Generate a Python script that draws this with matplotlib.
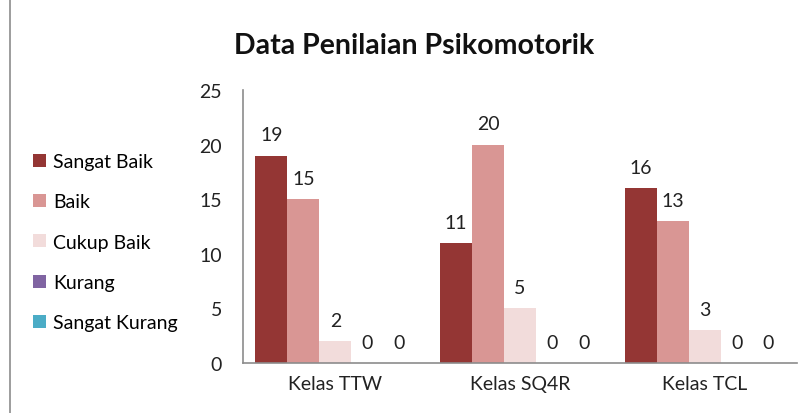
import numpy as np
import matplotlib.pyplot as plt
from matplotlib.lines import Line2D

# ── DATA ──────────────────────────────────────────────────────────────────────
categories = ["Kelas TTW", "Kelas SQ4R", "Kelas TCL"]
series_names = ["Sangat Baik", "Baik", "Cukup Baik", "Kurang", "Sangat Kurang"]
sangat_baik = [19, 11, 16]
baik = [15, 20, 13]
cukup_baik = [2, 5, 3]
kurang = [0, 0, 0]
sangat_kurang = [0, 0, 0]
series_values = [sangat_baik, baik, cukup_baik, kurang, sangat_kurang]
colors = ["#943634", "#D99694", "#F2DCDB", "#8064A2", "#4BACC6"]
# ─────────────────────────────────────────────────────────────────────────────

plt.rcParams["font.family"] = ["Lato", "DejaVu Sans"]
FS = 14

W, H = 807, 414
fig = plt.figure(figsize=(W / 100, H / 100), dpi=100)
ax = fig.add_axes([243 / W, 1 - 364 / H, (797 - 243) / W, (364 - 91) / H])

x = np.arange(len(categories))
bw = 0.173
for i, (name, vals, c) in enumerate(zip(series_names, series_values, colors)):
    offs = (i - 2) * bw
    bars = ax.bar(x + offs, vals, width=bw, color=c, label=name)
    for b, v in zip(bars, vals):
        ax.annotate(str(v), (b.get_x() + b.get_width() / 2, v),
                    xytext=(0, 15), textcoords="offset points",
                    ha="center", va="center", fontsize=FS, color="#222222")

ax.set_xlim(-0.5, 2.5)
ax.set_ylim(0, 25)
ax.set_yticks(range(0, 26, 5))
ax.set_xticks(x)
ax.set_xticklabels(categories)
ax.tick_params(length=0, labelsize=FS, colors="#222222")
ax.tick_params(axis="y", pad=15)
ax.tick_params(axis="x", pad=9)
for s in ["top", "right"]:
    ax.spines[s].set_visible(False)
for s in ["left", "bottom"]:
    ax.spines[s].set_color("#8c8c8c")
    ax.spines[s].set_linewidth(1.2)

fig.text(414 / W, 1 - 46 / H, "Data Penilaian Psikomotorik", ha="center",
         va="center", fontsize=20.5, fontweight="bold", color="#111111")

fig.legend(loc="upper left", bbox_to_anchor=(33 / W, 1 - 154 / H),
           frameon=False, fontsize=FS, handlelength=0.65, handleheight=0.65,
           labelspacing=1.2, handletextpad=0.4, borderaxespad=0,
           borderpad=0)

# frame line on the left edge
fig.add_artist(Line2D([10 / W, 10 / W], [0, 1], transform=fig.transFigure,
                      color="#8c8c8c", linewidth=1.2))

plt.savefig("out.png", dpi=100)
